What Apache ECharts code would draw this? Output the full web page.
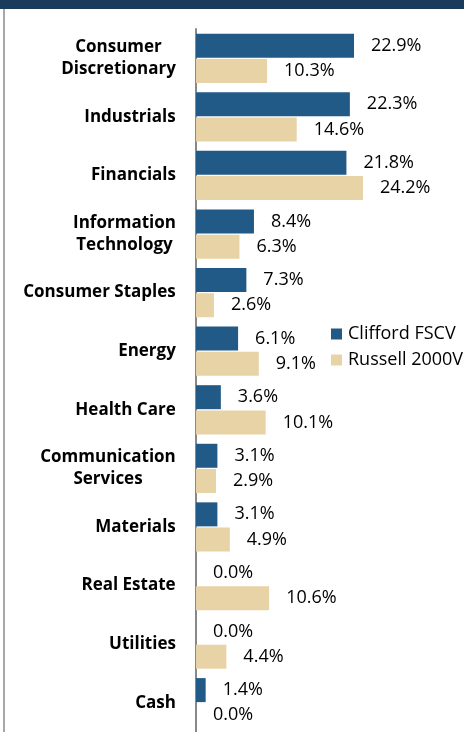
<!DOCTYPE html>
<html>
<head>
<meta charset="utf-8">
<script src="https://cdn.jsdelivr.net/npm/echarts@6/dist/echarts.min.js"></script>
<style>
html,body{margin:0;padding:0;background:#fff;}
#main{width:464px;height:732px;}
</style>
</head>
<body>
<div id="main"></div>
<script>
var sectors = ['Consumer\nDiscretionary', 'Industrials', 'Financials', 'Information\nTechnology',
    'Consumer Staples', 'Energy', 'Health Care', 'Communication\nServices', 'Materials',
    'Real Estate', 'Utilities', 'Cash'];
var clifford = [22.9, 22.3, 21.8, 8.4, 7.3, 6.1, 3.6, 3.1, 3.1, 0.0, 0.0, 1.4];
var russell = [10.3, 14.6, 24.2, 6.3, 2.6, 9.1, 10.1, 2.9, 4.9, 10.6, 4.4, 0.0];
var seriesNames = ['Clifford FSCV', 'Russell 2000V'];

var FONT = 'Open Sans';
var myChart = echarts.init(document.getElementById('main'));

// width of the widest line, so two-line labels get centred lines
var ctx = document.createElement('canvas').getContext('2d');
ctx.font = 'bold 17px ' + FONT;
var rich = {};
for (var i = 0; i < sectors.length; i++) {
    var lines = sectors[i].split('\n');
    var w = 0;
    for (var j = 0; j < lines.length; j++) {
        w = Math.max(w, ctx.measureText(lines[j]).width);
    }
    rich['c' + i] = {width: Math.ceil(w), align: 'center', fontWeight: 'bold', fontSize: 17,
        fontFamily: FONT, color: '#000', lineHeight: 22};
}

function pct(p) {
    return p.value.toFixed(1) + '%';
}

var valLabel = {show: true, position: 'right', distance: 17, formatter: pct,
    fontFamily: FONT, fontSize: 18, color: '#000'};

var option = {
    animation: false,
    color: ['#215a86', '#e8d3a6'],
    graphic: [
        {type: 'rect', shape: {x: 0, y: 0, width: 464, height: 9}, style: {fill: '#1b3b5d'}},
        {type: 'line', shape: {x1: 4, y1: 9, x2: 4, y2: 732}, style: {stroke: '#a8a8a8', lineWidth: 2}}
    ],
    legend: {
        orient: 'vertical',
        left: 326,
        top: 320,
        icon: 'rect',
        itemWidth: 11,
        itemHeight: 11,
        itemGap: 8,
        textStyle: {fontFamily: FONT, fontSize: 18, color: '#000', padding: [0, 0, 0, 1]},
        data: seriesNames
    },
    grid: {left: 196, top: 29, width: 207, height: 708},
    xAxis: {
        type: 'value',
        min: 0,
        max: 30,
        show: false
    },
    yAxis: {
        type: 'category',
        inverse: true,
        data: sectors,
        axisTick: {show: false},
        axisLine: {show: true, lineStyle: {color: '#888', width: 2}},
        axisLabel: {
            margin: 20,
            formatter: function (value, index) {
                return value.split('\n').map(function (l) {
                    return '{c' + index + '|' + l + '}';
                }).join('\n');
            },
            rich: rich
        }
    },
    series: [{
        name: seriesNames[0],
        type: 'bar',
        data: clifford,
        barWidth: 24,
        barGap: '5%',
        label: valLabel
    }, {
        name: seriesNames[1],
        type: 'bar',
        data: russell,
        barWidth: 24,
        label: valLabel
    }]
};
myChart.setOption(option);
</script>
</body>
</html>
